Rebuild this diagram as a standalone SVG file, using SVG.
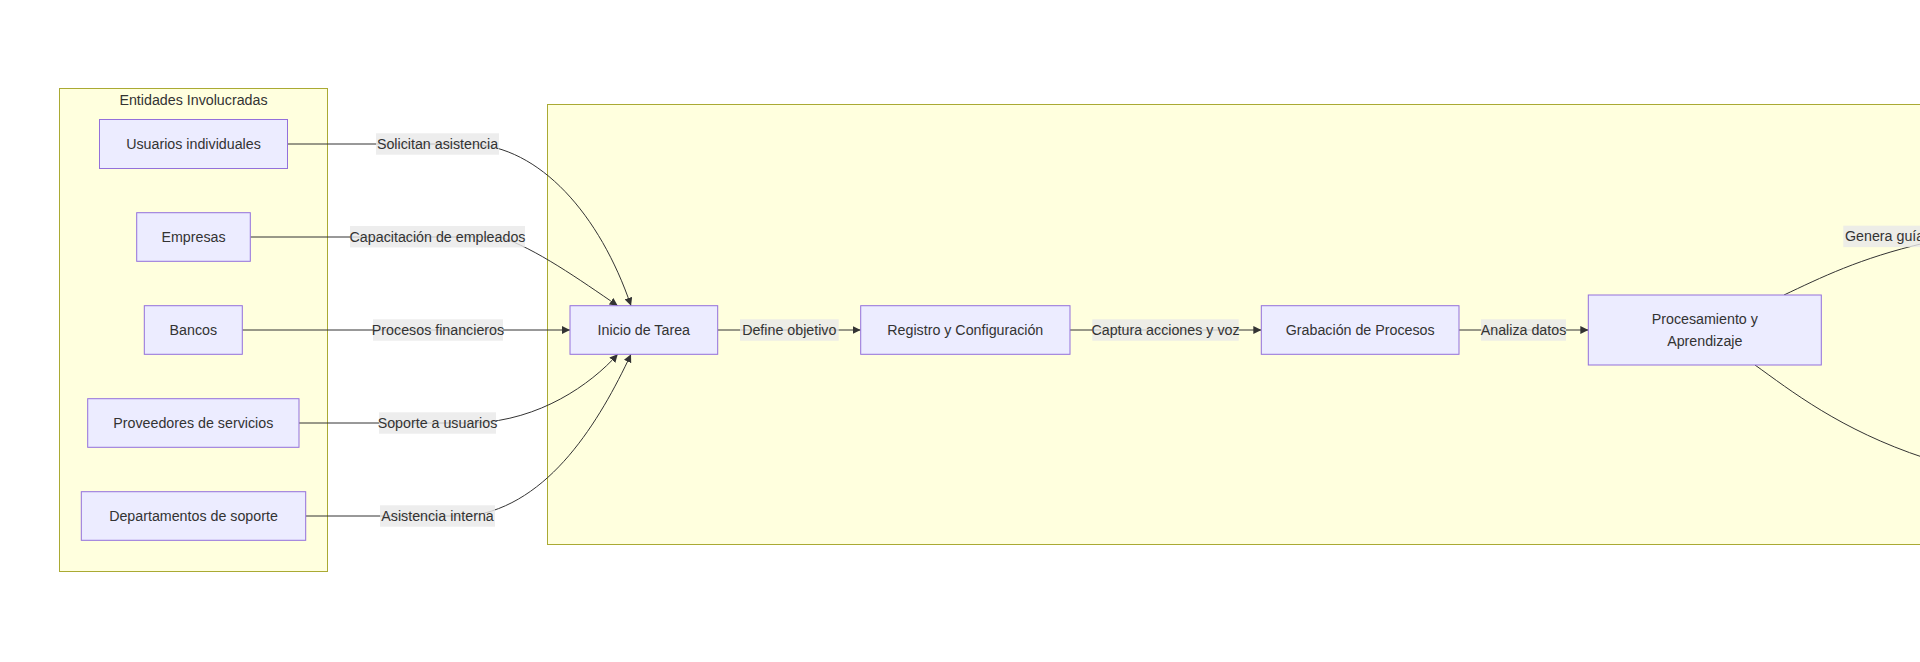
<svg xmlns="http://www.w3.org/2000/svg" width="1920" height="662" viewBox="0 0 1920 662">
<style>
  text { font-family: "Liberation Sans", Arial, sans-serif; font-size: 14.25px; fill: #333333; text-anchor: middle; dominant-baseline: central; }
  .cluster { fill: #ffffde; stroke: #aaaa33; stroke-width: 1; }
  .node rect { fill: #ececff; stroke: #9370db; stroke-width: 1; }
  .edge { fill: none; stroke: #333333; stroke-width: 1; }
  .lbl { fill: #e8e8e8; fill-opacity: 0.8; }
</style>
<defs>
  <marker id="arrow" viewBox="0 0 10 10" refX="10" refY="5" markerUnits="userSpaceOnUse" markerWidth="8" markerHeight="8" orient="auto">
    <path d="M0,0 L10,5 L0,10 z" fill="#333333"/>
  </marker>
</defs>
<rect width="1920" height="662" fill="#ffffff"/>

<g id="clusters">
  <g id="cluster-entidades">
    <rect class="cluster" x="59.5" y="88.5" width="268" height="483"/>
    <text x="193.5" y="99.5">Entidades Involucradas</text>
  </g>
  <g id="cluster-proceso">
    <rect class="cluster" x="547.5" y="104.5" width="1390" height="440"/>
  </g>
</g>

<g id="connectors">
  <path class="edge" d="M287.5,144 L470,144 C540,146 600,215 631,305.7" marker-end="url(#arrow)"/>
  <path class="edge" d="M250.3,237 L500,237 C535,248 580,280 617.7,305.7" marker-end="url(#arrow)"/>
  <path class="edge" d="M242.3,330 L570,330" marker-end="url(#arrow)"/>
  <path class="edge" d="M299,423 L475,423 C540,420 590,385 617.7,354.3" marker-end="url(#arrow)"/>
  <path class="edge" d="M305.7,516 L470,516 C550,505 600,420 631,354.3" marker-end="url(#arrow)"/>
  <path class="edge" d="M717.7,330 L860.7,330" marker-end="url(#arrow)"/>
  <path class="edge" d="M1070,330 L1261.3,330" marker-end="url(#arrow)"/>
  <path class="edge" d="M1459,330 L1588.3,330" marker-end="url(#arrow)"/>
  <path class="edge" d="M1784,295 C1820,278 1860,258 1925,243"/>
  <path class="edge" d="M1755,365 C1790,390 1840,430 1925,458"/>

  <g id="edge-labels">
    <rect class="lbl" x="376" y="133.3" width="123" height="21.4"/>
    <text x="437.5" y="144">Solicitan asistencia</text>
    <rect class="lbl" x="350" y="226" width="175" height="21.4"/>
    <text x="437.5" y="236.7">Capacitación de empleados</text>
    <rect class="lbl" x="373" y="319.3" width="130" height="21.4"/>
    <text x="438" y="330">Procesos financieros</text>
    <rect class="lbl" x="379" y="412.3" width="117" height="21.4"/>
    <text x="437.5" y="423">Soporte a usuarios</text>
    <rect class="lbl" x="380" y="505.3" width="115" height="21.4"/>
    <text x="437.5" y="516">Asistencia interna</text>
    <rect class="lbl" x="740" y="319.3" width="98.7" height="21.4"/>
    <text x="789.3" y="330">Define objetivo</text>
    <rect class="lbl" x="1092.3" y="319.3" width="146.4" height="21.4"/>
    <text x="1165.5" y="330">Captura acciones y voz</text>
    <rect class="lbl" x="1481" y="319.3" width="85" height="21.4"/>
    <text x="1523.5" y="330">Analiza datos</text>
    <rect class="lbl" x="1843.3" y="225.7" width="90" height="21.4"/>
    <text x="1845" y="236.4" style="text-anchor:start">Genera guía</text>
  </g>
</g>

<g id="node-usuarios" class="node">
  <rect x="99.5" y="119.5" width="188" height="49"/>
  <text x="193.5" y="144">Usuarios individuales</text>
</g>
<g id="node-empresas" class="node">
  <rect x="136.7" y="212.7" width="113.6" height="48.6"/>
  <text x="193.5" y="237">Empresas</text>
</g>
<g id="node-bancos" class="node">
  <rect x="144.3" y="305.7" width="98" height="48.6"/>
  <text x="193.3" y="330">Bancos</text>
</g>
<g id="node-proveedores" class="node">
  <rect x="87.7" y="398.7" width="211.3" height="48.6"/>
  <text x="193.3" y="423">Proveedores de servicios</text>
</g>
<g id="node-departamentos" class="node">
  <rect x="81.3" y="491.7" width="224.4" height="48.6"/>
  <text x="193.5" y="516">Departamentos de soporte</text>
</g>
<g id="node-inicio" class="node">
  <rect x="570" y="305.7" width="147.7" height="48.6"/>
  <text x="643.8" y="330">Inicio de Tarea</text>
</g>
<g id="node-registro" class="node">
  <rect x="860.7" y="305.7" width="209.3" height="48.6"/>
  <text x="965.3" y="330">Registro y Configuración</text>
</g>
<g id="node-grabacion" class="node">
  <rect x="1261.3" y="305.7" width="197.7" height="48.6"/>
  <text x="1360.2" y="330">Grabación de Procesos</text>
</g>
<g id="node-procesamiento" class="node">
  <rect x="1588.3" y="295" width="233" height="70"/>
  <text x="1704.8" y="319.3">Procesamiento y</text>
  <text x="1704.8" y="340.5">Aprendizaje</text>
</g>
</svg>
